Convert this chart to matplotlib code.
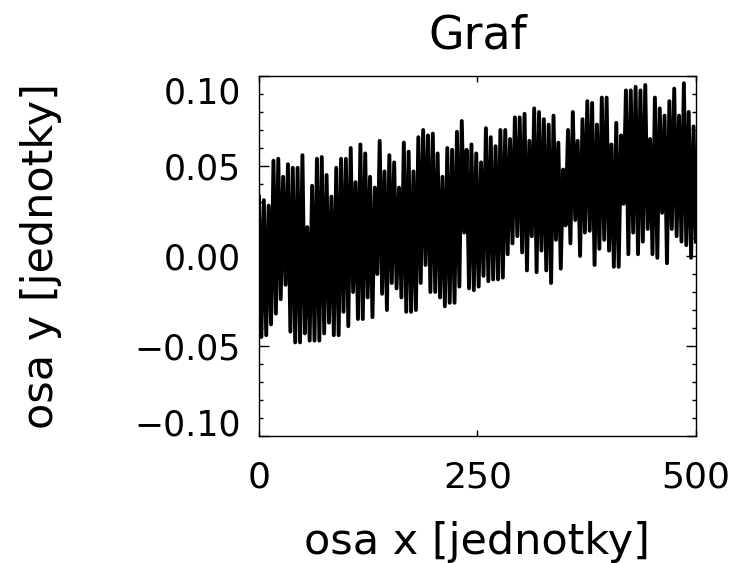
import numpy as np
import matplotlib.pyplot as plt

plt.rcParams['font.family'] = ['DejaVu Sans']

# upper and lower turning points of the signal, read left to right
peaks = [0.033, 0.031, 0.028, 0.053, 0.054, 0.044, 0.051, 0.049, 0.049, 0.056,
         0.016, 0.039, 0.054, 0.055, 0.045, 0.033, 0.049, 0.054,
         0.054, 0.060, 0.041, 0.062, 0.057, 0.044, 0.038, 0.064, 0.047, 0.056,
         0.052, 0.038, 0.063, 0.058, 0.047, 0.066, 0.070, 0.067,
         0.068, 0.057, 0.044, 0.060, 0.059, 0.069, 0.075, 0.059, 0.062, 0.057,
         0.052, 0.071, 0.066, 0.061, 0.070, 0.070, 0.065, 0.077,
         0.077, 0.079, 0.064, 0.082, 0.080, 0.076, 0.073, 0.078, 0.063, 0.048,
         0.070, 0.080, 0.064, 0.076, 0.086, 0.085, 0.073, 0.088,
         0.088, 0.062, 0.074, 0.067, 0.092, 0.092, 0.094, 0.092, 0.095, 0.065,
         0.088, 0.082, 0.078, 0.086, 0.093, 0.078, 0.096, 0.080, 0.072]
troughs = [-0.045, -0.044, -0.038, -0.032, -0.024, -0.016, -0.042, -0.048, -0.048, -0.043,
           -0.047, -0.047, -0.047, -0.043, -0.037, -0.044, -0.044, -0.031,
           -0.039, -0.020, -0.035, -0.035, -0.023, -0.034, -0.010, -0.021, -0.030, -0.015,
           -0.018, -0.023, -0.031, -0.031, -0.030, -0.015, -0.005, -0.020,
           -0.020, -0.023, -0.028, -0.026, -0.026, -0.017, 0.013, -0.018, -0.019, -0.017,
           -0.011, -0.014, -0.013, -0.013, -0.012, 0.001, 0.007, 0.011,
           0.002, -0.008, 0.011, -0.009, 0.003, -0.008, -0.015, 0.009, -0.007, 0.017,
           0.007, 0.020, -0.000, 0.013, 0.014, -0.005, 0.004, 0.009,
           0.003, -0.006, -0.006, 0.029, 0.001, 0.013, 0.001, 0.008, 0.015, 0.001,
           -0.001, 0.024, -0.004, 0.015, 0.011, 0.008, 0.006, -0.001, 0.008]

y = np.column_stack([peaks, troughs]).ravel()
x = np.linspace(0, 500, len(y))

yticks = [-0.10, -0.05, 0.00, 0.05, 0.10]
ytick_labels = ['\u22120.10', '\u22120.05', '0.00', '0.05', '0.10']
xticks = [0, 250, 500]

fig = plt.figure(figsize=(7.41, 5.63), dpi=100)
ax = fig.add_axes([0.3495, 0.2256, 0.5897, 0.6394])
ax.plot(x, y, color='black', lw=2.8)

ax.set_xlim(0, 500)
ax.set_ylim(-0.10, 0.10)
ax.set_xticks(xticks)
ax.set_xticklabels([str(t) for t in xticks], fontsize=26)
ax.set_yticks(yticks)
ax.set_yticklabels(ytick_labels, fontsize=25)
ax.set_yticks(np.arange(-0.10, 0.1001, 0.01), minor=True)

ax.tick_params(axis='both', which='both', direction='in', top=True, right=True,
               color='black', width=1)
ax.tick_params(axis='y', which='major', length=7, pad=13)
ax.tick_params(axis='y', which='minor', length=3)
ax.tick_params(axis='x', which='major', length=4, pad=18)
for s in ax.spines.values():
    s.set_linewidth(1.0)

labs = ax.get_yticklabels()
labs[0].set_va('baseline')
labs[-1].set_va('top')

ax.set_title('Graf', fontsize=33, pad=20)
ax.set_xlabel('osa x [jednotky]', fontsize=31)
ax.set_ylabel('osa y [jednotky]', fontsize=31)
ax.xaxis.set_label_coords(0.5, -0.235)
ax.yaxis.set_label_coords(-0.45, 0.5)

fig.savefig('out.png', dpi=100)
